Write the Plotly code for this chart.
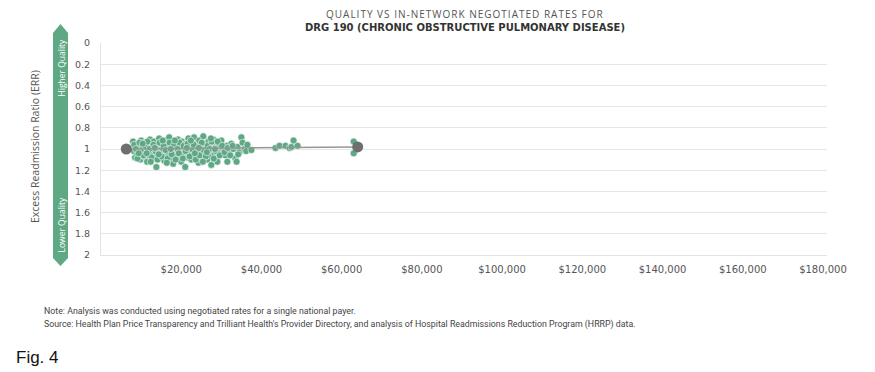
import plotly.graph_objects as go

# ---- data ----
rate_k = [8.0, 8.2, 8.5, 8.8, 9.0, 9.2, 9.5, 9.8, 10.0, 10.3, 10.5, 10.8, 11.0, 11.2, 11.5, 11.8, 12.0, 12.2, 12.5, 12.8,
          13.0, 13.2, 13.5, 13.8, 14.0, 14.3, 14.5, 14.8, 15.0, 15.2, 15.5, 15.8, 16.0, 16.3, 16.5, 16.8, 17.0, 17.2, 17.5, 17.8,
          18.0, 18.2, 18.5, 18.8, 19.0, 19.2, 19.5, 19.8, 20.0, 20.2, 20.5, 20.8, 21.0, 21.2, 21.5, 21.8, 22.0, 22.3, 22.5, 22.8,
          23.0, 23.2, 23.5, 23.8, 24.0, 24.3, 24.5, 24.8, 25.0, 25.3, 25.5, 25.8, 26.0, 26.3, 26.5, 26.8, 27.0, 27.3, 27.5, 27.8,
          28.0, 28.3, 28.5, 28.8, 29.0, 29.3, 29.5, 29.8, 30.0, 30.5, 31.0, 31.3, 31.5, 32.0, 32.5, 33.0, 33.5, 34.0, 34.5, 35.0,
          35.3, 35.8, 36.2, 36.5, 37.5, 33.8, 29.0,
          8.3, 8.7, 9.1, 9.6, 10.1, 10.6, 11.1, 11.6, 12.1, 12.6, 13.1, 13.6, 14.1, 14.6, 15.1, 15.6, 16.1, 16.6, 17.1, 17.6,
          18.1, 18.6, 19.1, 19.6, 20.1, 20.6, 21.1, 21.6, 22.1, 22.6, 23.1, 23.6, 24.1, 24.6, 25.1, 25.6, 26.1, 26.6, 27.1, 27.6,
          28.1, 28.6, 29.1, 29.6, 30.2, 30.8, 31.6, 32.2, 32.8, 34.2, 9.4, 10.4, 11.4, 12.4, 13.4, 14.4, 15.4, 16.4, 17.4, 18.4,
          19.4, 20.4, 21.4, 22.4, 23.4, 24.4, 25.4, 26.4, 27.4, 28.4,
          43.5, 44.5, 46.0, 47.0, 47.5, 48.0, 49.0, 63.0, 63.0]
err = [0.93, 1.02, 1.08, 0.97, 1.05, 0.95, 1.00, 1.10, 0.92, 1.04, 0.98, 1.07, 0.94, 1.01, 1.12, 0.96, 1.06, 0.91, 1.03, 0.99,
       1.09, 0.93, 1.05, 1.17, 0.97, 1.02, 0.90, 1.08, 0.95, 1.04, 1.00, 1.11, 0.92, 1.06, 0.98, 1.03, 0.89, 1.09, 0.96, 1.01,
       1.14, 0.94, 1.05, 0.99, 1.07, 0.91, 1.02, 0.97, 1.12, 0.93, 1.04, 1.00, 1.17, 0.95, 1.08, 0.90, 1.03, 0.98, 1.10, 0.94,
       1.05, 0.89, 1.01, 1.07, 0.96, 1.13, 0.92, 1.03, 0.99, 1.08, 0.88, 1.04, 0.95, 1.00, 1.10, 0.93, 1.06, 0.97, 1.15, 1.02,
       0.91, 1.05, 0.98, 0.94, 1.08, 1.01, 0.96, 1.03, 0.92, 1.00, 1.06, 0.97, 1.12, 1.02, 0.95, 1.00, 1.09, 0.98, 1.03, 0.89,
       0.94, 1.00, 1.02, 0.96, 1.01, 1.12, 1.12,
       0.96, 1.00, 1.09, 0.94, 1.03, 1.06, 0.98, 0.93, 1.00, 1.08, 0.96, 1.02, 1.10, 0.94, 1.07, 0.97, 1.01, 1.09, 0.94, 1.05,
       0.97, 1.10, 1.00, 0.94, 1.06, 0.97, 1.02, 0.95, 1.07, 1.00, 0.96, 1.10, 1.01, 1.06, 0.94, 1.01, 1.07, 0.97, 1.00, 0.93,
       1.09, 1.02, 0.93, 1.06, 0.97, 1.03, 0.99, 1.06, 0.97, 1.05, 1.04, 0.95, 1.04, 1.12, 0.99, 1.05, 0.92, 1.13, 1.00, 0.92,
       1.04, 1.09, 0.99, 0.92, 1.04, 0.99, 1.12, 1.03, 0.90, 1.00,
       0.99, 0.97, 0.97, 0.99, 0.98, 0.92, 0.97, 0.93, 1.04]
trend_rate = [6300, 64000]
trend_err = [1.00, 0.98]
x_ticks = [20000, 40000, 60000, 80000, 100000, 120000, 140000, 160000, 180000]
x_labels = ["$20,000", "$40,000", "$60,000", "$80,000", "$100,000", "$120,000", "$140,000", "$160,000", "$180,000"]
y_ticks = [0, 0.2, 0.4, 0.6, 0.8, 1, 1.2, 1.4, 1.6, 1.8, 2]
y_labels = ["0", "0.2", "0.4", "0.6", "0.8", "1", "1.2", "1.4", "1.6", "1.8", "2"]

W, H = 875, 372
L, R, T, B = 101, 827, 43, 255
FONT = "DejaVu Sans"
GREEN = "rgb(94,168,132)"


def px(xp):
    return (xp - L) / (R - L)


def py(yp):
    return (B - yp) / (B - T)


fig = go.Figure()
fig.add_trace(go.Scatter(
    x=[v * 1000 for v in rate_k], y=err, mode="markers",
    marker=dict(size=7, color=GREEN, line=dict(color="rgba(255,255,255,0.8)", width=0.7)),
    hoverinfo="skip", showlegend=False))
fig.add_trace(go.Scatter(
    x=trend_rate, y=trend_err, mode="lines+markers",
    line=dict(color="rgb(150,150,150)", width=1.5),
    marker=dict(size=11, color="rgb(110,110,110)"),
    hoverinfo="skip", showlegend=False))

# quality arrow
ax0, ax1, axm = 53, 68, 60.5
path = (f"M {px(ax0)},{py(33)} L {px(axm)},{py(24)} L {px(ax1)},{py(33)} "
        f"L {px(ax1)},{py(258)} L {px(axm)},{py(266)} L {px(ax0)},{py(258)} Z")
fig.add_shape(type="path", path=path, xref="paper", yref="paper",
              fillcolor=GREEN, line=dict(width=0), layer="above")

title1 = "\u200a".join("QUALITY VS IN-NETWORK NEGOTIATED RATES FOR")
ann = [
    dict(text="Higher Quality", x=px(axm), y=py(68), textangle=-90,
         font=dict(size=8.5, color="white", family="Open Sans")),
    dict(text="Lower Quality", x=px(axm), y=py(225), textangle=-90,
         font=dict(size=8.5, color="white", family="Open Sans")),
    dict(text="Excess Readmission Ratio (ERR)", x=px(35), y=py(147), textangle=-90,
         font=dict(size=10.5, color="#555", family="Open Sans")),
    dict(text=title1, x=px(465), y=py(14), font=dict(size=10, color="#555", family="Open Sans")),
    dict(text="<b>DRG 190 (CHRONIC OBSTRUCTIVE PULMONARY DISEASE)</b>", x=px(465), y=py(27),
         font=dict(size=10, color="#333", family="DejaVu Sans")),
    dict(text="Note: Analysis was conducted using negotiated rates for a single national payer.",
         x=px(42), y=py(311), xanchor="left", font=dict(size=8.8, color="#444", family="Roboto")),
    dict(text="Source: Health Plan Price Transparency and Trilliant Health's Provider Directory, and analysis of Hospital Readmissions Reduction Program (HRRP) data.",
         x=px(42), y=py(324), xanchor="left", font=dict(size=8.8, color="#444", family="Roboto")),
    dict(text="Fig. 4", x=px(14), y=py(357), xanchor="left",
         font=dict(size=17, color="#111", family="Liberation Sans")),
]
for a in ann:
    a.setdefault("xanchor", "center")
    a.update(xref="paper", yref="paper", yanchor="middle", showarrow=False)
    fig.add_annotation(**a)

fig.update_layout(
    width=W, height=H,
    margin=dict(l=L, r=W - R, t=T, b=H - B, pad=0),
    paper_bgcolor="white", plot_bgcolor="white",
    font=dict(family=FONT, size=10, color="#555"),
    xaxis=dict(range=[0, 181000], tickvals=x_ticks, ticktext=x_labels, showgrid=False,
               zeroline=False, showline=True, linecolor="#e3e3e3", linewidth=1,
               ticks="outside", ticklen=5, tickcolor="rgba(0,0,0,0)",
               tickfont=dict(size=10, color="#555", family=FONT), fixedrange=True),
    yaxis=dict(range=[2, 0], tickvals=y_ticks, ticktext=y_labels, showgrid=True,
               gridcolor="#e6e6e6", gridwidth=1, zeroline=False, showline=True,
               linecolor="#e3e3e3", linewidth=1, ticks="outside", ticklen=8,
               tickcolor="rgba(0,0,0,0)", tickfont=dict(size=9.5, color="#555", family=FONT),
               fixedrange=True),
)
fig.write_html("out.html", config={"displayModeBar": False},
               post_script="document.body.style.margin='0';")
